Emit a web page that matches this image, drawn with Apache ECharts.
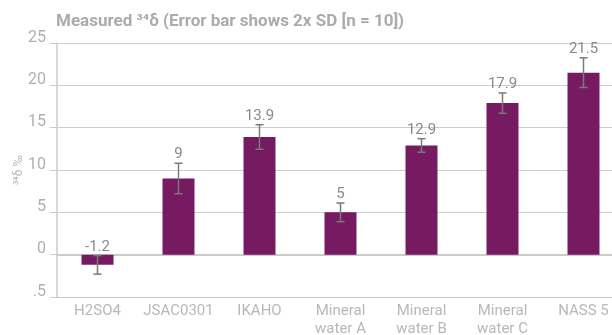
<!DOCTYPE html>
<html>
<head>
<meta charset="utf-8">
<script src="https://cdn.jsdelivr.net/npm/echarts@6/dist/echarts.min.js"></script>
<style>
  html, body { margin: 0; padding: 0; background: #fff; }
  #chart { width: 612px; height: 335px; }
</style>
</head>
<body>
<div id="chart"></div>
<script>
// Sample names (two-line labels for the mineral waters)
const categories = ['H2SO4', 'JSAC0301', 'IKAHO', 'Mineral\nwater A', 'Mineral\nwater B', 'Mineral\nwater C', 'NASS 5'];
// Measured delta-34 values (per mil)
const values = [-1.2, 9, 13.9, 5, 12.9, 17.9, 21.5];
// Half-length of each error bar (2x SD spread around the value)
const errors = [1.1, 1.8, 1.45, 1.1, 0.8, 1.2, 1.75];
// Y axis tick labels keyed by tick value
const yTickValues = [-5, 0, 5, 10, 15, 20, 25];
const yTickLabels = ['.5', '0', '5', '10', '15', '20', '25'];

const errorData = values.map((v, i) => [i, v - errors[i], v + errors[i], v]);

const chart = echarts.init(document.getElementById('chart'), null, { renderer: 'canvas' });

chart.setOption({
  animation: false,
  backgroundColor: '#fff',
  title: {
    text: 'Measured \u00B3\u2074\u03B4 (Error bar shows 2x SD [n = 10])',
    left: 51,
    top: 8,
    textStyle: { fontFamily: 'Roboto', fontSize: 17, fontWeight: 'bold', color: '#ababab' }
  },
  grid: { left: 57, top: 43, width: 567, bottom: 38, outerBoundsMode: 'none', containLabel: false },
  xAxis: {
    type: 'category',
    data: categories,
    axisLine: { lineStyle: { color: '#cccccc', width: 2 } },
    axisTick: { show: false },
    axisLabel: {
      fontFamily: 'Roboto', fontSize: 15, color: '#b8b8b8', margin: 5, lineHeight: 18,
      interval: 0
    }
  },
  yAxis: {
    type: 'value',
    min: -5,
    max: 25,
    interval: 5,
    name: '\u00B3\u2074\u03B4 \u2030',
    nameLocation: 'middle',
    nameGap: 32,
    nameMoveOverlap: false,
    nameTextStyle: { fontFamily: 'Roboto', fontSize: 12, color: '#b8b8b8' },
    axisLine: { show: true, lineStyle: { color: '#cccccc', width: 1.5 } },
    axisTick: { show: true, length: 7, lineStyle: { color: '#cccccc' } },
    splitLine: { lineStyle: { color: '#cccccc', width: 1 } },
    axisLabel: {
      fontFamily: 'Roboto', fontSize: 16, color: '#b0b0b0', margin: 11,
      verticalAlign: 'bottom', lineHeight: 11,
      formatter: function (v) {
        const k = yTickValues.indexOf(v);
        return k >= 0 ? yTickLabels[k] : String(v);
      }
    }
  },
  series: [
    {
      type: 'bar',
      data: values,
      barWidth: 32,
      itemStyle: { color: '#761a62' },
      z: 2
    },
    {
      type: 'custom',
      data: errorData,
      z: 5,
      renderItem: function (params, api) {
        const x = api.coord([api.value(0), 0])[0];
        const lo = api.coord([api.value(0), api.value(1)])[1];
        const hi = api.coord([api.value(0), api.value(2)])[1];
        const cap = 4;
        const style = { stroke: '#7a7a7a', lineWidth: 1.5 };
        const v = api.value(3);
        return {
          type: 'group',
          children: [
            { type: 'line', shape: { x1: x, y1: hi, x2: x, y2: lo }, style: style },
            { type: 'line', shape: { x1: x - cap, y1: hi, x2: x + cap, y2: hi }, style: style },
            { type: 'line', shape: { x1: x - cap, y1: lo, x2: x + cap, y2: lo }, style: style },
            {
              type: 'text',
              x: x,
              y: hi - 1,
              style: {
                text: String(v),
                fontFamily: 'Roboto', fontSize: 15, fill: '#8a8a8a',
                align: 'center', verticalAlign: 'bottom'
              }
            }
          ]
        };
      }
    }
  ]
});
</script>
</body>
</html>
